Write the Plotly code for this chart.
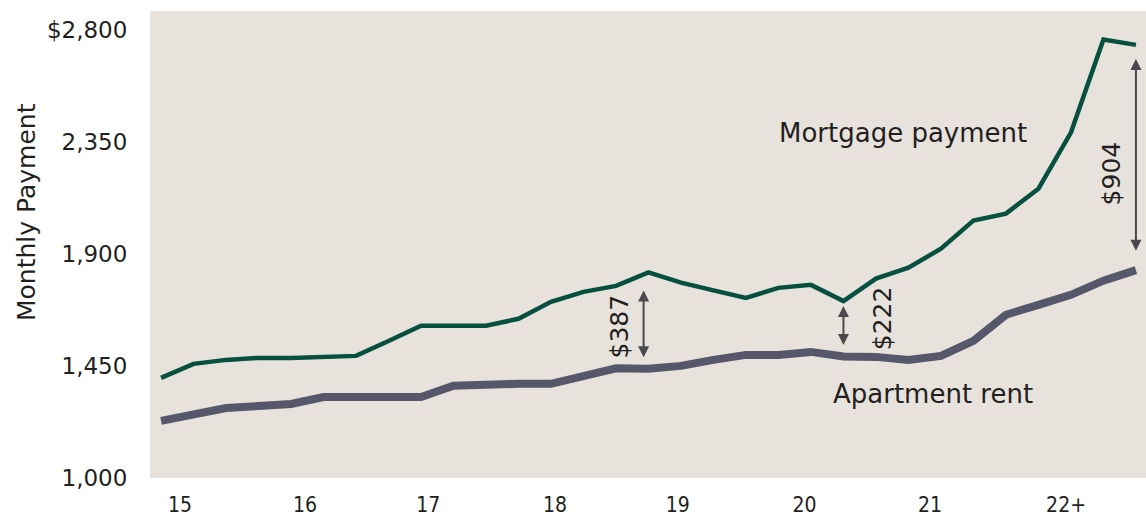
import plotly.graph_objects as go

# ---- data (quarterly, 2015 Q1 .. 2022 Q3) ----
quarter_index = list(range(31))
mortgage = [1402, 1458, 1474, 1482, 1482, 1486, 1490, 1550, 1611, 1611,
            1611, 1639, 1707, 1747, 1771, 1825, 1784, 1753, 1723, 1763,
            1775, 1710, 1800, 1844, 1920, 2033, 2061, 2161, 2386, 2760, 2738]
rent = [1229, 1255, 1281, 1289, 1297, 1325, 1325, 1325, 1325, 1370,
        1378, 1378, 1378, 1410, 1440, 1438, 1450, 1474, 1494, 1494,
        1506, 1488, 1486, 1474, 1490, 1550, 1655, 1695, 1735, 1792, 1834]

year_labels = ["15", "16", "17", "18", "19", "20", "21", "22+"]
year_tick_pos = [0.58, 4.43, 8.22, 12.12, 15.9, 19.8, 23.66, 27.85]

y_tick_vals = [1000, 1450, 1900, 2350, 2800]
y_tick_text = ["1,000", "1,450", "1,900", "2,350", "$2,800"]

gap_points = [15, 21, 30]
gap_labels = ["$387", "$222", "$904"]

# ---- styles ----
GREEN = "#07503F"
GRAY = "#56576B"
BG = "#E7E3DC"
ARROW = "#4A4A4C"
TXT = "#231F20"
FONT = "DejaVu Sans, Verdana, sans-serif"

fig = go.Figure()
fig.add_trace(go.Scatter(x=quarter_index, y=rent, mode="lines",
                         line=dict(color=GRAY, width=8), name="Apartment rent",
                         hoverinfo="skip"))
fig.add_trace(go.Scatter(x=quarter_index, y=mortgage, mode="lines",
                         line=dict(color=GREEN, width=4.5), name="Mortgage payment",
                         hoverinfo="skip"))

annotations = []
# gap arrows
arrow_cfg = {
    15: dict(dx=-0.15, top=18, bot=10, lx=-0.88, ly=-6),
    21: dict(dx=0.0, top=5, bot=10, lx=1.2, ly=11),
    30: dict(dx=0.0, top=14, bot=18, lx=-0.74, ly=-16),
}
for idx, lab in zip(gap_points, gap_labels):
    c = arrow_cfg[idx]
    xa = quarter_index[idx] + c["dx"]
    annotations.append(dict(
        x=xa, y=mortgage[idx], ax=xa, ay=rent[idx], xref="x", yref="y",
        axref="x", ayref="y", text="", showarrow=True, arrowside="end+start",
        arrowhead=2, arrowsize=1.1, arrowwidth=2, arrowcolor=ARROW,
        standoff=c["top"], startstandoff=c["bot"]))
    annotations.append(dict(
        x=quarter_index[idx] + c["lx"], y=(mortgage[idx] + rent[idx]) / 2,
        xref="x", yref="y", text=lab, showarrow=False, textangle=-90,
        xanchor="center", yanchor="middle",
        yshift=c["ly"], font=dict(family=FONT, size=25, color=TXT)))

annotations.append(dict(x=0.756, y=0.739, xref="paper", yref="paper",
                        xanchor="center", yanchor="middle",
                        text="Mortgage payment", showarrow=False,
                        font=dict(family=FONT, size=26, color=TXT)))
annotations.append(dict(x=0.786, y=0.18, xref="paper", yref="paper",
                        xanchor="center", yanchor="middle",
                        text="Apartment rent", showarrow=False,
                        font=dict(family=FONT, size=26, color=TXT)))
annotations.append(dict(x=-0.1235, y=0.5696, xref="paper", yref="paper",
                        xanchor="center", yanchor="middle",
                        text="Monthly Payment", showarrow=False, textangle=-90,
                        font=dict(family=FONT, size=25, color=TXT)))

fig.update_layout(
    width=1146, height=516,
    margin=dict(l=150, r=0, t=11, b=38, autoexpand=False),
    paper_bgcolor="white", plot_bgcolor=BG,
    showlegend=False,
    annotations=annotations,
    xaxis=dict(range=[-0.34, 30.31], tickvals=year_tick_pos, ticktext=year_labels,
               showgrid=False, zeroline=False, showline=False, automargin=False,
               ticks="outside", ticklen=8, tickcolor="rgba(0,0,0,0)",
               tickfont=dict(family="DejaVu Sans Condensed, Liberation Sans Narrow, " + FONT,
                             size=21, color=TXT)),
    yaxis=dict(range=[1000, 2874], tickvals=y_tick_vals, ticktext=y_tick_text,
               showgrid=False, zeroline=False, showline=False, automargin=False,
               ticks="outside", ticklen=17, tickcolor="rgba(0,0,0,0)",
               tickfont=dict(family=FONT, size=23, color=TXT)),
)

fig.write_html("out.html", config={"displayModeBar": False},
               post_script="document.body.style.margin='0px';")
